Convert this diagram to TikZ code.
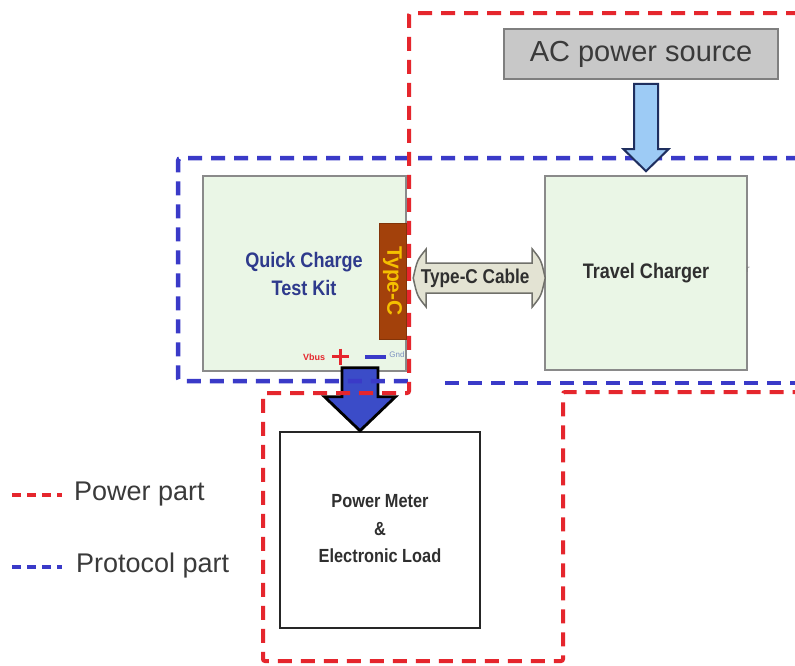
\documentclass[tikz,border=0pt]{standalone}
\usepackage{fontspec}
\setmainfont{Liberation Sans}
\newfontfamily\narrowf[FakeStretch=0.86]{Liberation Sans}
\usetikzlibrary{calc}
\definecolor{pwrred}{HTML}{E5262D}
\definecolor{protblue}{HTML}{3A3AC8}
\definecolor{kitfill}{HTML}{EAF6E6}
\definecolor{boxgray}{HTML}{8A8A8A}
\definecolor{tabfill}{HTML}{A3410B}
\definecolor{tabtext}{HTML}{F5C000}
\definecolor{acfill}{HTML}{C8C8C8}
\definecolor{acborder}{HTML}{7F7F7F}
\definecolor{acarrow}{HTML}{9DCBF5}
\definecolor{acarrowborder}{HTML}{1F2F5F}
\definecolor{kitarrow}{HTML}{3B4CC8}
\definecolor{cablefill}{HTML}{E3E3D3}
\definecolor{cableborder}{HTML}{70706A}
\definecolor{txtdark}{HTML}{2F2F2F}
\definecolor{txtgray}{HTML}{3A3A3A}
\definecolor{kitblue}{HTML}{2E3A8C}
\definecolor{gndblue}{HTML}{7A8FC0}
\begin{document}
\begin{tikzpicture}[x=1pt,y=-1pt,
  box/.style={draw=boxgray,line width=1.6pt,fill=kitfill,inner sep=0pt},
  lbl/.style={font=\narrowf\bfseries\fontsize{21}{28}\selectfont,text=txtdark,align=center,inner sep=0pt},
  pwr/.style={draw=pwrred,line width=4pt,dash pattern=on 14pt off 9pt,rounded corners=2pt},
  prot/.style={draw=protblue,line width=4.5pt,dash pattern=on 14pt off 9pt,rounded corners=3pt},
  legtxt/.style={anchor=west,font=\fontsize{27}{27}\selectfont,text=txtgray,inner sep=0pt}
]
\useasboundingbox (0,0) rectangle (795,665);
\fill[white] (0,0) rectangle (795,665);

% ---------- boxes ----------
\node[draw=acborder,fill=acfill,line width=1.8pt,minimum width=274pt,minimum height=50pt,inner sep=0pt,
  font=\fontsize{29}{32}\selectfont,text=txtgray] (ac) at (641,54) {AC power source};
\node[box,minimum width=203pt,minimum height=195pt] (kit) at (304.5,273.5) {};
\node[lbl,text=kitblue] (kitlbl) at (304,274) {Quick Charge\\Test Kit};
\node[box,lbl,minimum width=202pt,minimum height=194pt] (tc) at (646,273) {Travel Charger};
\node[font=\fontsize{10}{10}\selectfont,text=gray,inner sep=0pt] (rmark) at (748,270) {r};
\node[draw=black!85,line width=2.5pt,fill=white,minimum width=200pt,minimum height=196pt,inner sep=0pt] (pm) at (380,530) {};
\node[lbl,font=\narrowf\bfseries\fontsize{19}{27.5}\selectfont] (pmlbl) at (380,529) {Power Meter\\\&\\Electronic Load};
\node[draw=tabfill!80!black,fill=tabfill,minimum width=27pt,minimum height=116pt,inner sep=0pt] (tab) at (392.5,281) {};
\node[rotate=-90,font=\bfseries\fontsize{21}{21}\selectfont,text=tabtext,inner sep=0pt] (tablbl) at (tab.center) {Type-C};

% ---------- Vbus / Gnd ----------
\node[text=pwrred,font=\bfseries\fontsize{9}{9}\selectfont,inner sep=0pt] (vbus) at (314,357) {Vbus};
\draw[pwrred,line width=3pt] (332,356.5) -- (349,356.5) (340.5,348.5) -- (340.5,364.5);
\draw[protblue,line width=3.2pt] (365,357) -- (386,357);
\node[text=gndblue,font=\fontsize{8}{8}\selectfont,inner sep=0pt] (gnd) at (397,355) {Gnd};

% ---------- Type-C cable ----------
\coordinate (cL) at ($(tab.east)+(7,-3)$);
\coordinate (cR) at ($(tc.west|-cL)+(1,0)$);
\draw[draw=cableborder,fill=cablefill,line width=1.5pt]
  (cL) .. controls ($(cL)+(4,-18)$) .. ($(cL)+(13,-29)$) -- ($(cL)+(13,-15)$)
  -- ($(cR)+(-13,-15)$) -- ($(cR)+(-13,-29)$) .. controls ($(cR)+(-4,-18)$) .. (cR)
  .. controls ($(cR)+(-4,18)$) .. ($(cR)+(-13,29)$) -- ($(cR)+(-13,15)$)
  -- ($(cL)+(13,15)$) -- ($(cL)+(13,29)$) .. controls ($(cL)+(4,18)$) .. cycle;
\node[lbl,font=\narrowf\bfseries\fontsize{20}{20}\selectfont] (cablbl) at ($(cL)!0.5!(cR)+(-4,0)$) {Type-C Cable};

% ---------- kit -> power meter arrow ----------
\coordinate (kaT) at ($(kit.south)+(55.5,-4)$);
\coordinate (kaH) at (kaT|-pm.north);
\draw[draw=black,fill=kitarrow,line width=2.8pt,line join=miter]
  ($(kaT)+(-18,0)$) -- ($(kaH)+(-18,-34)$) -- ($(kaH)+(-35.5,-34)$) -- (kaH)
  -- ($(kaH)+(35.5,-34)$) -- ($(kaH)+(18,-34)$) -- ($(kaT)+(18,0)$) -- cycle;

% ---------- region outlines ----------
\coordinate (bTR) at (800,158);
\coordinate (bTL) at (178,158);
\coordinate (bBL) at (178,381);
\coordinate (bBM) at (412,381);
\coordinate (bB2) at (445,383);
\coordinate (bBR) at (800,383);
\draw[prot] (bTR) -- (bTL) -- (bBL) -- (bBM);
\draw[prot] (bB2) -- (bBR);

\coordinate (r1) at (800,13);
\coordinate (r2) at (409,13);
\coordinate (r3) at (409,393);
\coordinate (r4) at (263,393);
\coordinate (r5) at (263,661);
\coordinate (r6) at (563,661);
\coordinate (r7) at (563,392);
\coordinate (r8) at (800,392);
\draw[pwr] (r1) -- (r2) -- (r3) -- (r4) -- (r5) -- (r6) -- (r7) -- (r8);

% ---------- AC arrow ----------
\coordinate (acT) at ($(tc.north|-ac.south)+(0,4)$);
\coordinate (acH) at ($(tc.north)+(0,-4)$);
\draw[draw=acarrowborder,fill=acarrow,line width=2pt,line join=miter]
  ($(acT)+(-12,0)$) -- ($(acH)+(-12,-22)$) -- ($(acH)+(-22.5,-22)$) -- (acH)
  -- ($(acH)+(22.5,-22)$) -- ($(acH)+(12,-22)$) -- ($(acT)+(12,0)$) -- cycle;

% ---------- legend ----------
\coordinate (lr1) at (12,495);
\coordinate (lr2) at (62,495);
\draw[pwrred,line width=3.5pt,dash pattern=on 9pt off 6pt] (lr1) -- (lr2);
\node[legtxt] (lgpow) at (74,494) {Power part};
\coordinate (lb1) at (12,567);
\coordinate (lb2) at (62,567);
\draw[protblue,line width=4pt,dash pattern=on 9pt off 6pt] (lb1) -- (lb2);
\node[legtxt] (lgprot) at (76,566) {Protocol part};
\end{tikzpicture}
\end{document}
